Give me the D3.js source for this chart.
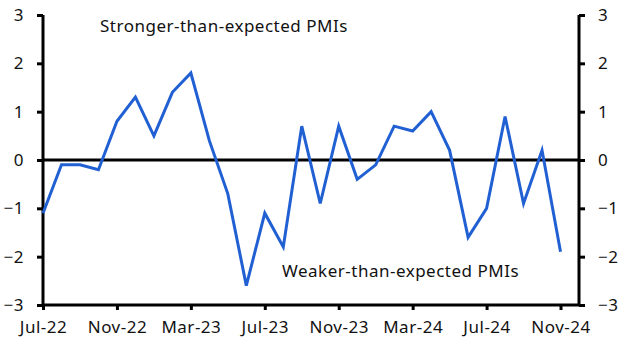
<!DOCTYPE html>
<html>
<head>
<meta charset="utf-8">
<script src="https://cdn.jsdelivr.net/npm/d3@7"></script>
<style>
  body { margin: 0; background: #fff; }
  svg text { font-family: "Noto Sans", "Open Sans", sans-serif; fill: #111; letter-spacing: 0.5px; }
</style>
</head>
<body>
<div id="chart"></div>
<script>
var width = 629;
var height = 354;

// monthly PMI surprise, Jul-22 .. Nov-24
var months = ["Jul-22","Aug-22","Sep-22","Oct-22","Nov-22","Dec-22","Jan-23","Feb-23","Mar-23","Apr-23",
  "May-23","Jun-23","Jul-23","Aug-23","Sep-23","Oct-23","Nov-23","Dec-23","Jan-24","Feb-24",
  "Mar-24","Apr-24","May-24","Jun-24","Jul-24","Aug-24","Sep-24","Oct-24","Nov-24"];
var values = [-1.1, -0.1, -0.1, -0.2, 0.8, 1.3, 0.5, 1.4, 1.8, 0.4,
  -0.7, -2.6, -1.1, -1.8, 0.7, -0.9, 0.7, -0.4, -0.1, 0.7,
  0.6, 1.0, 0.2, -1.6, -1.0, 0.9, -0.9, 0.2, -1.9];
var xTickLabels = ["Jul-22","Nov-22","Mar-23","Jul-23","Nov-23","Mar-24","Jul-24","Nov-24"];
var yTicks = [-3, -2, -1, 0, 1, 2, 3];

let svg = d3.select("#chart").append("svg")
    .attr("width", width)
    .attr("height", height);

let plotL = 43, plotR = 579, plotT = 15, plotB = 305;

let x = d3.scaleLinear().domain([0, 29]).range([plotL, plotR]);
let y = d3.scaleLinear().domain([-3, 3]).range([plotB, plotT]);

// left axis
let yl = svg.append("g")
    .attr("transform", "translate(" + plotL + ",0)")
    .call(d3.axisLeft(y).tickValues(yTicks).tickSize(6).tickPadding(13).tickFormat(d3.format("d")));
// right axis
let yr = svg.append("g")
    .attr("transform", "translate(" + plotR + ",0)")
    .call(d3.axisRight(y).tickValues(yTicks).tickSize(6).tickPadding(13).tickFormat(d3.format("d")));
// bottom axis
let xa = svg.append("g")
    .attr("transform", "translate(0," + plotB + ")")
    .call(d3.axisBottom(x)
        .tickValues(xTickLabels.map(m => months.indexOf(m)))
        .tickSize(5).tickPadding(9)
        .tickFormat(i => months[i]));

[yl, yr, xa].forEach(g => {
    g.select(".domain").attr("stroke", "#000").attr("stroke-width", 3);
    g.selectAll(".tick line").attr("stroke", "#000").attr("stroke-width", 3);
    g.selectAll(".tick text").attr("font-size", 17).attr("fill", "#111")
        .style("font-family", "'Noto Sans', 'Open Sans', sans-serif");
});
yl.select(".domain").attr("d", "M0," + plotT + "V" + plotB);
yr.select(".domain").attr("d", "M0," + plotT + "V" + plotB);
xa.select(".domain").attr("d", "M" + plotL + ",0H" + plotR);
xa.selectAll(".tick text").attr("dy", "0.85em");

// zero line
svg.append("line")
    .attr("x1", plotL).attr("x2", plotR)
    .attr("y1", y(0)).attr("y2", y(0))
    .attr("stroke", "#000").attr("stroke-width", 3);

// series
let line = d3.line().x((d, i) => x(i)).y(d => y(d));
svg.append("path")
    .datum(values)
    .attr("d", line)
    .attr("fill", "none")
    .attr("stroke", "#2160D3")
    .attr("stroke-width", 3)
    .attr("stroke-linejoin", "miter");

svg.append("text")
    .attr("x", 100).attr("y", 32)
    .attr("font-size", 17)
    .text("Stronger-than-expected PMIs");
svg.append("text")
    .attr("x", 282).attr("y", 277)
    .attr("font-size", 17)
    .text("Weaker-than-expected PMIs");
</script>
</body>
</html>
